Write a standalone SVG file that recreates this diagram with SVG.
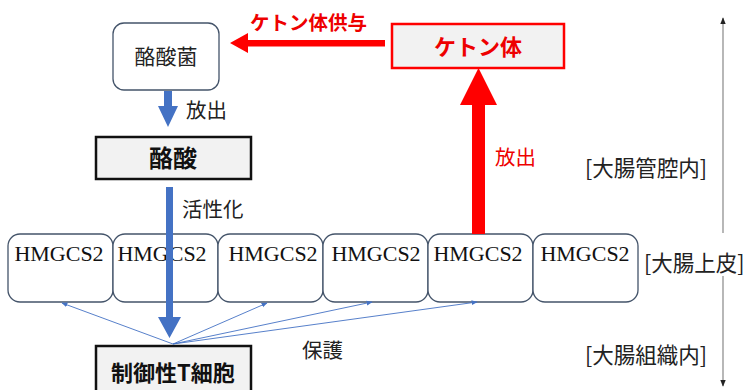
<svg xmlns="http://www.w3.org/2000/svg" width="746" height="390" viewBox="0 0 746 390">
<defs>
<style>
.jp{font-family:"Noto Sans CJK JP","Noto Sans",sans-serif;}
.cell{fill:#fff;stroke:#44546a;stroke-width:1.3;}
.hm{font-family:"Liberation Serif",serif;font-size:22px;fill:#111;text-anchor:middle;}
.thin{stroke:#4472c4;stroke-width:0.9;fill:none;marker-end:url(#sm);}
.lbl{font-size:20.5px;fill:#222;}
.side{font-size:21.5px;fill:#222;}
</style>
<marker id="sm" viewBox="0 0 10 10" refX="9" refY="5" markerWidth="6" markerHeight="6" orient="auto" markerUnits="userSpaceOnUse">
<path d="M0,1 L10,5 L0,9 z" fill="#4472c4"/>
</marker>
<marker id="ga" viewBox="0 0 10 10" refX="9" refY="5" markerWidth="7" markerHeight="7" orient="auto" markerUnits="userSpaceOnUse">
<path d="M0,1 L10,5 L0,9 z" fill="#222"/>
</marker>
</defs>
<rect width="746" height="390" fill="#fff"/>

<g id="n-butyrate-bacteria">
<rect x="113" y="23" width="106" height="67" rx="11" fill="#fff" stroke="#44546a" stroke-width="1.3"/>
<text x="166" y="64" class="jp" font-size="21" text-anchor="middle" fill="#222">酪酸菌</text>
</g>
<g id="n-butyrate">
<rect x="96" y="137" width="155" height="42" fill="#f2f2f2" stroke="#111" stroke-width="2.5"/>
<text x="173" y="167" class="jp" font-size="24" font-weight="bold" text-anchor="middle" fill="#111">酪酸</text>
</g>
<g id="n-ketone">
<rect x="392" y="24" width="172" height="44" fill="#f2f2f2" stroke="#f00" stroke-width="2.5"/>
<text x="478" y="55" class="jp" font-size="22" font-weight="bold" text-anchor="middle" fill="#e00">ケトン体</text>
</g>
<g id="n-hmgcs2-1"><rect x="8" y="234" width="105" height="68" rx="12" class="cell"/><text x="59" y="261" class="hm">HMGCS2</text></g>
<g id="n-hmgcs2-2"><rect x="113" y="234" width="105" height="68" rx="12" class="cell"/><text x="162" y="261" class="hm">HMGCS2</text></g>
<g id="n-hmgcs2-3"><rect x="218" y="234" width="105" height="68" rx="12" class="cell"/><text x="273" y="261" class="hm">HMGCS2</text></g>
<g id="n-hmgcs2-4"><rect x="323" y="234" width="105" height="68" rx="12" class="cell"/><text x="376" y="261" class="hm">HMGCS2</text></g>
<g id="n-hmgcs2-5"><rect x="428" y="234" width="105" height="68" rx="12" class="cell"/><text x="478" y="261" class="hm">HMGCS2</text></g>
<g id="n-hmgcs2-6"><rect x="533" y="234" width="105" height="68" rx="12" class="cell"/><text x="585" y="261" class="hm">HMGCS2</text></g>
<g id="n-treg">
<rect x="96" y="346" width="155" height="50" fill="#f2f2f2" stroke="#111" stroke-width="2.5"/>
<text x="173" y="381" class="jp" font-size="22" font-weight="bold" text-anchor="middle" fill="#111">制御性T細胞</text>
</g>

<g id="connectors">
<polygon points="164,91 172,91 172,106 178,106 168,127 158,106 164,106" fill="#4472c4"/>
<polygon points="166,187 173,187 173,317 181,317 169.5,338 158,317 166,317" fill="#4472c4"/>
<polygon points="472,234 485,234 485,105 497,105 478.5,68 460,105 472,105" fill="#f00"/>
<polygon points="385,40 385,46.5 248,46.5 248,53 230,43 248,33 248,40" fill="#f00"/>
<line x1="173" y1="344" x2="62" y2="303" class="thin"/>
<line x1="173" y1="344" x2="267" y2="303" class="thin"/>
<line x1="173" y1="344" x2="372" y2="302" class="thin"/>
<line x1="173" y1="344" x2="477" y2="302" class="thin"/>
<line x1="723" y1="233" x2="723" y2="18" stroke="#888" stroke-width="1.2" marker-end="url(#ga)"/>
<line x1="723" y1="276" x2="723" y2="386" stroke="#888" stroke-width="1.2" marker-end="url(#ga)"/>
</g>

<g id="labels">
<text x="186" y="118" class="jp lbl">放出</text>
<text x="182" y="217" class="jp lbl">活性化</text>
<text x="250" y="30" class="jp" font-size="19.5" font-weight="bold" fill="#e00">ケトン体供与</text>
<text x="495" y="165" class="jp" font-size="20.5" fill="#e00">放出</text>
<text x="302" y="358" class="jp lbl">保護</text>
<text x="585" y="176" class="jp side">[大腸管腔内]</text>
<text x="644" y="271" class="jp side">[大腸上皮]</text>
<text x="585" y="363" class="jp side">[大腸組織内]</text>
</g>
</svg>
